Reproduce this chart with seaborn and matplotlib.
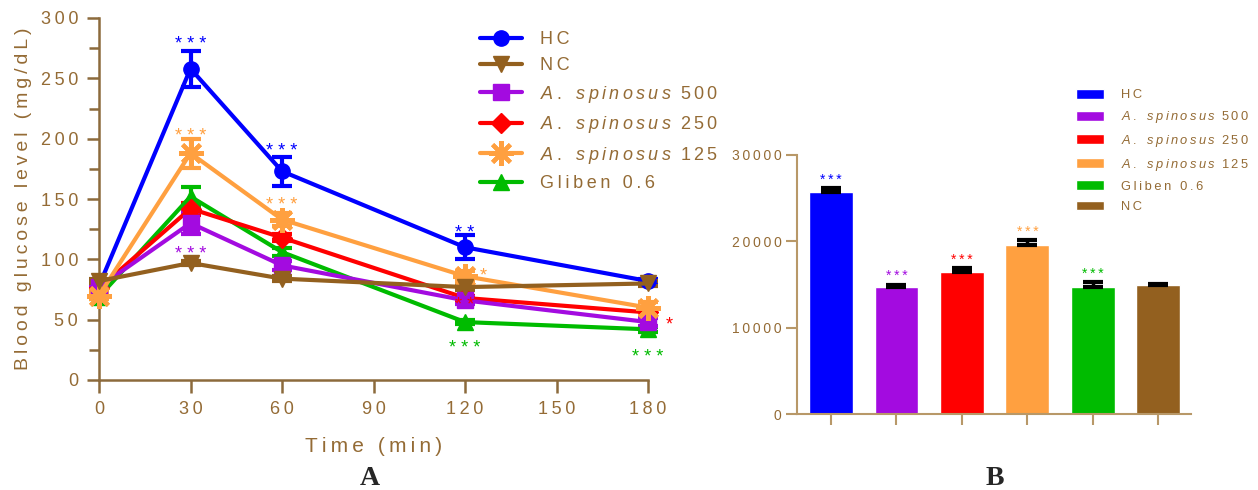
import numpy as np
import pandas as pd
import matplotlib
matplotlib.use("Agg")
import matplotlib.pyplot as plt
import seaborn as sns
from matplotlib.lines import Line2D
from matplotlib.patches import Patch

sns.set_style("ticks")
plt.rcParams['font.family'] = ['Liberation Sans', 'DejaVu Sans']
plt.rcParams['mathtext.fontset'] = 'custom'
plt.rcParams['mathtext.it'] = 'Liberation Sans:italic'
plt.rcParams['mathtext.rm'] = 'Liberation Sans'

txt = '#946B35'
spine_l = '#8C6A3C'
spine_r = '#B89868'
TS = '\u2009'


def sp(s):
    # wide letter spacing like the original figure
    return TS.join(s)


def sp_it(s, num):
    it = r'\:'.join('\\ ' if c == ' ' else c for c in s)
    rm = r'\:'.join(num)
    return r'$\mathit{' + it + r'}\ \ \mathrm{' + rm + '}$'


# ---- panel A data ----
times = [0, 30, 60, 120, 180]
hc = [78, 258, 173, 110, 82]
nc = [82, 97, 84, 77, 80]
as500 = [77, 130, 95, 66, 48]
as250 = [76, 142, 118, 68, 56]
as125 = [70, 188, 133, 86, 60]
gliben = [69, 152, 106, 48, 42]

hc_err = [3, 15, 12, 10, 2]
nc_err = [2, 2, 2, 2, 2]
as500_err = [2, 9, 4, 3, 3]
as250_err = [2, 5, 3, 2, 2]
as125_err = [3, 12, 5, 4, 5]
gliben_err = [2, 8, 3, 2, 2]

xticks_a = [0, 30, 60, 90, 120, 150, 180]
yticks_a = [0, 50, 100, 150, 200, 250, 300]

# ---- panel B data ----
bar_names = ['HC', 'A. spinosus 500', 'A. spinosus 250', 'A. spinosus 125', 'Gliben 0.6', 'NC']
bar_vals = [25700, 14700, 16450, 19550, 14700, 14900]
bar_err = [450, 300, 450, 650, 550, 150]
bar_stars = ['***', '***', '***', '***', '***', '']
yticks_b = [0, 10000, 20000, 30000]

c_hc = '#0000FF'
c_nc = '#93601F'
c_500 = '#A30BE0'
c_250 = '#FF0000'
c_125 = '#FFA040'
c_gl = '#00BB00'

lab_hc = sp('HC')
lab_nc = sp('NC')
lab_500 = sp_it('A. spinosus', '500')
lab_250 = sp_it('A. spinosus', '250')
lab_125 = sp_it('A. spinosus', '125')
lab_gl = sp('Gliben 0.6')

fig = plt.figure(figsize=(12.58, 4.9), dpi=100)
ax = fig.add_axes([99/1258, 1-380/490, 549/1258, 362/490])

series = [
    (hc, hc_err, c_hc, 'o', 11, 1),
    (gliben, gliben_err, c_gl, '^', 11, 1),
    (as250, as250_err, c_250, 'D', 10, 1),
    (as500, as500_err, c_500, 's', 11, 1),
    (as125, as125_err, c_125, (8, 2, 0), 18, 3),
    (nc, nc_err, c_nc, 'v', 11, 1),
]
for vals, err, col, mk, ms, mew in series:
    ax.errorbar(times, vals, yerr=err, fmt='none', ecolor=col, elinewidth=3,
                capsize=7, capthick=3, clip_on=False, zorder=2)
    sns.lineplot(x=times, y=vals, ax=ax, color=col, marker=mk, markersize=ms,
                 markeredgewidth=mew, markeredgecolor=col, linewidth=3,
                 clip_on=False, zorder=3)

ax.set_xlim(0, 180)
ax.set_ylim(0, 300)
ax.set_xticks(xticks_a)
ax.set_xticklabels([sp(str(v)) for v in xticks_a])
ax.set_yticks(yticks_a)
ax.set_yticklabels([sp(str(v)) for v in yticks_a])
ax.set_yticks(np.arange(25, 300, 50), minor=True)
ax.tick_params(axis='both', which='major', length=9, width=1.8, color=spine_l,
               labelcolor=txt, labelsize=13, pad=6)
ax.tick_params(axis='y', which='minor', length=7, width=1.8, color=spine_l)
sns.despine(ax=ax)
for s in ['left', 'bottom']:
    ax.spines[s].set_color(spine_l)
    ax.spines[s].set_linewidth(1.8)
ax.set_xlabel(sp('Time (min)'), color=txt, fontsize=15, labelpad=14)
ax.set_ylabel(sp('Blood glucose level (mg/dL)'), color=txt, fontsize=14, labelpad=6)

stars = [
    (30, 278, '* * *', c_hc), (60, 189, '* * *', c_hc), (120, 121, '* *', c_hc),
    (30, 202, '* * *', c_125), (60, 145, '* * *', c_125), (126, 86, '*', c_125),
    (30, 104, '* * *', c_500), (120, 62, '* *', c_250), (187, 46, '*', c_250),
    (120, 26, '* * *', c_gl), (180, 19, '* * *', c_gl),
]
for x, y, s, col in stars:
    ax.text(x, y, s, color=col, fontsize=13, ha='center', va='center', zorder=5)

handles = [
    Line2D([], [], color=c_hc, marker='o', markersize=11, lw=3),
    Line2D([], [], color=c_nc, marker='v', markersize=11, lw=3),
    Line2D([], [], color=c_500, marker='s', markersize=11, lw=3),
    Line2D([], [], color=c_250, marker='D', markersize=10, lw=3),
    Line2D([], [], color=c_125, marker=(8, 2, 0), markersize=18, mew=3, lw=3),
    Line2D([], [], color=c_gl, marker='^', markersize=11, lw=3),
]
labels = [lab_hc, lab_nc, lab_500, lab_250, lab_125, lab_gl]
leg = fig.legend(handles, labels, loc='upper left', bbox_to_anchor=(480/1258, 1-31/490),
                 frameon=False, fontsize=13, handlelength=2.3, handletextpad=1.05,
                 labelspacing=0.52, borderpad=0, borderaxespad=0)
for t in leg.get_texts():
    t.set_color(txt)

# ---- panel B ----
bx = fig.add_axes([797/1258, 1-414/490, 394/1258, 259/490])
bar_cols = [c_hc, c_500, c_250, c_125, c_gl, c_nc]
df = pd.DataFrame({'group': bar_names, 'auc': bar_vals})
sns.barplot(data=df, x='group', y='auc', hue='group', palette=bar_cols,
            width=0.67, saturation=1, legend=False, ax=bx, order=bar_names,
            hue_order=bar_names)
xs = np.arange(len(bar_vals))
bx.errorbar(xs, bar_vals, yerr=[np.zeros(len(bar_err)), bar_err], fmt='none',
            ecolor='black', elinewidth=2.5, capsize=7, capthick=3, zorder=4)
for x, v, e, s, col in zip(xs, bar_vals, bar_err, bar_stars, bar_cols):
    if s:
        bx.text(x, v + e + 120, sp(s), color=col, fontsize=10, ha='center', va='bottom')
bx.set_xlim(-0.52, 5.5)
bx.set_ylim(0, 30000)
bx.set_yticks(yticks_b)
bx.set_yticklabels([sp(str(v)) for v in yticks_b])
bx.set_xticks(xs)
bx.set_xticklabels([])
bx.set_xlabel('')
bx.set_ylabel('')
sns.despine(ax=bx)
for s in ['left', 'bottom']:
    bx.spines[s].set_color(spine_r)
    bx.spines[s].set_linewidth(1.5)
bx.tick_params(axis='both', length=8, width=1.5, color=spine_r, labelcolor=txt,
               labelsize=10, pad=3)

bh = [Patch(facecolor=c) for c in bar_cols]
bar_labels = [lab_hc, lab_500, lab_250, lab_125, lab_gl, lab_nc]
leg2 = fig.legend(bh, bar_labels, loc='upper left', bbox_to_anchor=(1076/1258, 1-89/490),
                  frameon=False, fontsize=9.3, handlelength=2.2, handleheight=0.8,
                  handletextpad=1.25, labelspacing=0.6, borderpad=0, borderaxespad=0)
for t in leg2.get_texts():
    t.set_color(txt)

fig.text(370/1258, 1-478/490, 'A', fontsize=20, fontweight='bold',
         family='Liberation Serif', ha='center', va='center')
fig.text(995/1258, 1-478/490, 'B', fontsize=20, fontweight='bold',
         family='Liberation Serif', ha='center', va='center')

fig.savefig('out.png', dpi=100)
